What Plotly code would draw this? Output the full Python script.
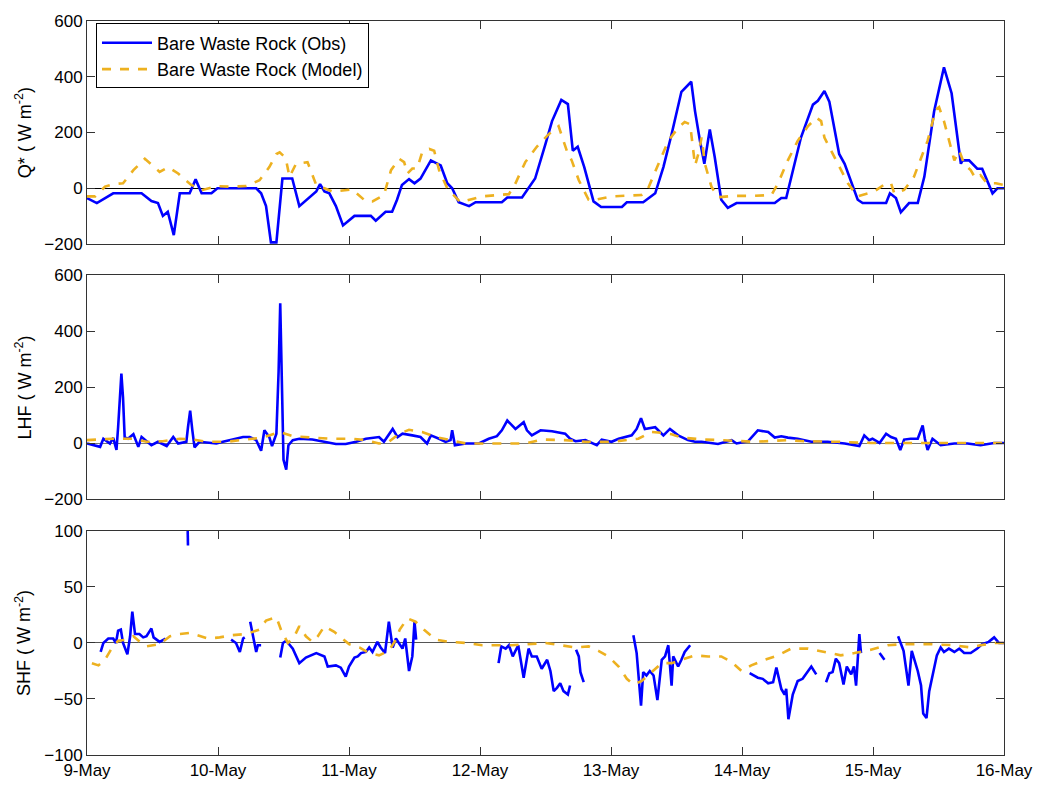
import plotly.graph_objects as go
from plotly.subplots import make_subplots

# ---------------- data (hours since 9-May 00:00) ----------------
qobs_t = [0, 1.8, 4.8, 10.0, 11.8, 13.0, 13.9, 14.8, 15.9, 17.0, 18.8, 19.9, 21.0, 22.8, 23.9, 31.0, 31.9, 32.8,
          33.7, 34.7, 35.8, 37.6, 38.9, 40.7, 42.0, 42.7, 43.5, 44.4, 45.6, 46.9, 49.0, 52.0, 52.9, 54.7, 55.9,
          56.8, 57.7, 59.0, 60.0, 61.1, 63.0, 64.8, 66.0, 66.9, 68.1, 70.0, 71.2, 76.0, 77.0, 79.7, 82.1, 84.0,
          85.2, 86.9, 88.1, 89.0, 89.9, 91.1, 92.8, 94.2, 98.0, 98.9, 101.9, 104.1, 105.6, 107.1, 108.9, 110.7,
          111.4, 112.3, 113.1, 114.1, 115.0, 116.2, 117.4, 119.0, 126.0, 127.2, 128.1, 130.8, 133.0, 133.9, 135.1,
          136.0, 137.8, 138.8, 141.2, 142.1, 146.4, 147.1, 148.2, 149.1, 150.6, 152.2, 153.4, 155.2, 157.0, 158.4,
          160.1, 160.4, 161.6, 163.1, 164.0, 165.9, 166.8, 168]
qobs_v = [-35, -53, -18, -18, -46, -53, -99, -84, -168, -18, -18, 32, -18, -18, 0, 0, -18, -64,
          -194, -194, 35, 35, -64, -35, -11, 15, -11, -18, -64, -133, -99, -99, -116, -84, -84,
          -41, 12, 33, 18, 35, 100, 82, 18, 0, -50, -64, -50, -50, -33, -33, 35, 159,
          241, 317, 302, 135, 149, 76, -47, -67, -67, -50, -50, -18, 76, 194, 346, 382,
          276, 170, 88, 211, 112, -41, -70, -53, -53, -35, -35, 182, 300, 314, 349,
          311, 123, 88, -41, -53, -53, -18, -35, -86, -53, -53, 41, 276, 434, 341,
          88, 100, 100, 70, 70, -18, 0, 0]

qmod_t = [0, 1.5, 3.3, 4.8, 6.6, 8.5, 10.6, 13.3, 14.9, 16.7, 19.1, 21.2, 23.7, 26.1, 29.2, 31.6, 33.4, 34.7,
          35.3, 36.4, 37.1, 38.3, 40.4, 42.0, 45.0, 48.6, 51.1, 52.3, 54.4, 55.7, 57.2, 58.1, 58.7, 59.6, 60.5,
          61.4, 62.7, 63.6, 64.5, 66.0, 68.4, 70.0, 72.4, 77.3, 78.5, 80.3, 82.4, 84.6, 86.4, 87.3, 87.9, 88.8,
          90.1, 91.9, 93.1, 96.1, 101.6, 102.8, 104.7, 106.5, 108.3, 109.5, 110.5, 110.8, 111.4, 112.0, 112.6,
          113.2, 114.4, 115.6, 118.7, 122.3, 125.4, 126.6, 128.4, 130.2, 132.1, 133.6, 134.5, 135.1, 135.7,
          136.9, 138.1, 139.4, 141.2, 144.2, 146.4, 147.3, 147.9, 149.7, 151.5, 152.8, 154.0, 155.5, 156.1,
          157.0, 157.9, 158.9, 159.8, 160.7, 161.9, 162.8, 163.7, 164.9, 166.5, 168]
qmod_v = [-29, -29, 6, 15, 18, 65, 106, 59, 76, 53, 12, -6, 8, 6, 8, 29, 76, 123,
          129, 109, 41, 88, 94, 12, -12, -4, -47, -47, -24, 65, 106, 94, 53, 71, 71,
          129, 141, 135, 65, 0, -50, -41, -29, -21, 18, 94, 149, 194, 223, 170, 135, 100,
          29, -41, -41, -29, -24, 0, 88, 170, 217, 238, 229, 182, 82, 123, 182,
          88, 6, -32, -27, -27, -24, 18, 100, 170, 223, 253, 241, 182, 159,
          112, 65, 18, -29, -12, 18, 18, -18, -6, 41, 112, 170, 282, 291,
          241, 170, 100, 135, 88, 65, 35, 47, 18, 18, 12]

lobs_t = [0, 2.4, 3.0, 4.2, 4.8, 5.4, 5.7, 6.0, 6.3, 6.6, 6.9, 7.5, 8.5, 9.4, 10.0, 11.8, 13.0, 14.6, 15.8,
          16.7, 18.2, 18.5, 18.9, 19.3, 19.7, 20.6, 23.7, 24.9, 27.0, 28.6, 29.8, 31.0, 31.9, 32.5, 33.4, 33.9,
          34.7, 35.1, 35.4, 35.7, 36.0, 36.5, 36.9, 37.7, 38.9, 41.3, 43.8, 45.6, 47.4, 49.3, 51.1, 53.5, 54.4,
          56.0, 56.9, 57.8, 59.6, 61.1, 62.3, 63.0, 64.5, 65.7, 66.6, 66.9, 67.4, 69.4, 71.8, 73.6, 75.1, 76.0,
          77.0, 77.9, 78.5, 80.0, 80.6, 81.5, 83.1, 85.2, 87.6, 88.5, 89.5, 91.3, 93.4, 94.3, 96.1, 97.4, 99.8,
          100.7, 101.5, 102.2, 104.1, 105.6, 106.8, 108.3, 110.1, 111.4, 112.6, 115.6, 118.1, 119.0, 121.1,
          122.9, 124.8, 126.0, 127.2, 128.4, 130.2, 132.7, 135.7, 138.8, 141.5, 142.4, 143.3, 143.9, 145.2,
          146.4, 147.3, 148.2, 149.0, 149.7, 150.9, 152.2, 153.1, 153.5, 154.0, 154.9, 156.4, 158.9, 161.3,
          163.7, 166.2, 168]
lobs_v = [0, -12, 17, 0, 20, -23, 58, 140, 250, 163, 23, 17, 33, -12, 23, -6, 6, -9, 23,
          0, 6, 58, 117, 47, -14, 6, 0, 6, 17, 23, 23, 12, -26, 47, 23, -9,
          35, 256, 501, 268, -58, -93, -6, 12, 17, 14, 6, -2, -2, 6, 17, 23, 6,
          52, 23, 35, 29, 23, 0, 29, 17, 6, 12, 47, -6, 0, 0, 17, 26, 47,
          82, 64, 52, 76, 47, 29, 47, 44, 35, 17, 8, 12, -6, 14, 6, 17, 29,
          52, 90, 52, 58, 29, 52, 29, 12, 6, 6, -2, 12, 0, 8,
          47, 41, 21, 26, 21, 17, 6, 6, 0, -9, 29, 12, 17, 2,
          35, 23, 17, -23, 14, 17, 17, 64, 17, -23, 17, -6, 0, 0,
          -6, 2, 2]

lmod_t = [0, 4.8, 8.5, 10.9, 13.9, 17.0, 19.4, 21.9, 25.5, 29.2, 32.2, 35.3, 37.7, 41.3, 45.0, 48.6, 51.1,
          53.5, 55.3, 57.2, 59.0, 61.4, 63.9, 66.6, 69.4, 74.8, 80.3, 83.3, 87.6, 91.3, 96.1, 101.0, 103.4,
          105.3, 107.1, 108.9, 111.4, 113.2, 116.2, 119.3, 122.3, 128.4, 131.5, 137.5, 143.6, 168]
lmod_v = [12, 17, 17, 6, 8, 17, 14, 6, 6, 14, 21, 41, 26, 21, 17, 17, 12,
          0, 6, 35, 49, 41, 23, 12, 0, 0, 0, 14, 12, 6, 6, 17, 41,
          38, 33, 21, 17, 14, 12, 8, 6, 12, 8, 6, 2, 2]

# SHF observations contain data gaps (None)
sobs_t = [2.5, 3.0, 3.9, 4.8, 5.3, 5.7, 6.2, 6.6, 7.4, 7.9, 8.3, 8.8, 9.6, 10.3, 10.9, 11.8, 12.2, 13.3, 14.4,
          None, 18.3, 18.5,
          None, 26.4, 27.3, 28.0, 28.6, 28.9,
          None, 29.9, 30.4, 31.0, 31.3, 31.9,
          None, 35.4, 35.9, 36.5, 37.7, 38.9, 40.1, 42.0, 42.6, 43.5, 44.1, 45.6, 46.5, 47.4, 48.0, 49.0, 49.6,
          50.2, 51.1, 51.7, 52.3, 53.2, 53.8, 54.6, 55.3, 56.0, 56.6, 57.2, 57.8, 58.3, 59.0, 59.6, 60.0, 60.3,
          None, 75.4, 75.9, 76.7, 77.3, 78.0, 79.0, 80.0, 80.9, 81.5, 82.4, 83.3, 84.3, 84.9, 85.5, 86.1, 86.7,
          87.3, 88.1, 88.5,
          None, 89.6, 90.1, 90.4, 91.0,
          None, 100.1, 100.7, 101.5, 101.9, 102.5, 103.1, 103.8, 104.5, 105.3, 105.9, 106.5, 107.1, 107.4,
          108.3, 108.9, 109.5, 110.5,
          None, 121.4, 122.9, 123.8, 124.8, 125.7, 126.3, 127.2, 127.8, 128.1, 128.5, 129.3, 130.2, 131.1,
          131.8, 132.7, 133.6,
          None, 135.4, 136.0, 136.6, 137.2, 137.8, 138.6, 139.2, 140.0, 140.5, 140.9, 141.5, 141.8,
          None, 145.2, 146.1,
          None, 148.6, 149.6, 150.5, 151.1, 152.2, 152.8, 153.2, 153.8, 154.3, 155.1, 155.7, 156.4, 157.0,
          157.9, 158.9, 159.8, 160.7, 161.9, 163.1, 164.0, 165.2, 166.2, 167.1, 168]
sobs_v = [-8, 0, 4, 4, 0, 11, 12, 0, -10, 6, 28, 8, 8, 5, 6, 13, 5, 1, 4,
          None, 140, 87,
          None, 3, 0, -8, 4, 5,
          None, 19, 6, -8, -2, -2,
          None, -13, 0, 2, -5, -18, -13, -9, -10, -12, -21, -20, -22, -30, -21, -13, -12,
          -9, -8, -4, -8, 1, -4, -9, 19, -4, 4, 0, -5, 4, -25, -12, 19, 3,
          None, -18, -3, -5, -2, -12, -2, -31, -5, -12, -12, -23, -15, -25, -43, -40, -36,
          -43, -46, -38,
          None, -6, -12, -26, -35,
          None, 7, -9, -56, -26, -29, -25, -29, -51, -15, -12, -2, -38, -12,
          -21, -15, -8, -2,
          None, -27, -31, -32, -36, -35, -22, -41, -46, -41, -68, -46, -34, -32,
          -27, -21, -28,
          None, -35, -27, -26, -14, -18, -37, -21, -28, -21, -38, 8, -9,
          None, -9, -15,
          None, 6, -7, -38, -7, -25, -38, -63, -67, -43, -24, -11, -4, -8,
          -5, -8, -5, -9, -9, -5, -1, 1, 5, 0, 0]

smod_t = [0.9, 2.1, 3.3, 4.5, 5.7, 7.3, 8.5, 9.7, 10.9, 13.3, 15.2, 17.0, 18.8, 20.6, 22.2, 24.3, 26.7, 29.2,
          31.6, 32.8, 34.7, 35.6, 36.8, 38.0, 38.9, 40.1, 41.3, 42.3, 43.5, 45.3, 46.8, 48.0, 49.9, 51.7, 53.5,
          55.3, 56.6, 57.3, 58.7, 60.2, 61.7, 63.9, 66.3, 69.4, 72.4, 77.9, 84.0, 87.0, 89.5, 91.9, 93.7, 95.5,
          97.4, 98.9, 100.1, 101.6, 103.4, 105.3, 107.1, 108.9, 111.4, 113.8, 116.2, 118.1, 119.9, 121.7,
          124.2, 126.6, 129.0, 132.1, 135.1, 138.1, 140.6, 143.6, 146.7, 149.7, 154.0, 158.9, 161.9, 163.7,
          166.2, 168]
smod_v = [-18, -20, -15, -5, 2, 3, 6, 1, -3, -1, 6, 8, 9, 6, 4, 5, 7, 8,
          12, 20, 23, 11, 0, 6, 15, 6, 1, 6, 15, 10, 4, -1, -4, -9, -11,
          -7, 3, 12, 22, 19, 12, 3, 1, 0, -2, -2, 0, -2, -4, -3, -7, -12,
          -21, -32, -37, -34, -26, -18, -18, -15, -11, -12, -12, -17, -25, -20,
          -15, -11, -5, -5, -8, -11, -9, -6, -2, -1, -1, -2, -4, -2,
          0, 0]

day_ticks = [0, 24, 48, 72, 96, 120, 144, 168]
day_labels = ["9-May", "10-May", "11-May", "12-May", "13-May", "14-May", "15-May", "16-May"]

OBS_C = "#0000FF"
MOD_C = "#EDB120"
FONT = "Liberation Sans, Arial, Helvetica, sans-serif"

fig = make_subplots(rows=3, cols=1, shared_xaxes=False, vertical_spacing=0.04)

def add(t, v, row, color, dash, name, show):
    fig.add_trace(go.Scatter(x=t, y=v, mode="lines", name=name, showlegend=show,
                             line=dict(color=color, width=2.6, dash=dash),
                             connectgaps=False), row=row, col=1)

add(qobs_t, qobs_v, 1, OBS_C, "solid", "Bare Waste Rock (Obs)", True)
add(qmod_t, qmod_v, 1, MOD_C, "dash", "Bare Waste Rock (Model)", True)
add(lobs_t, lobs_v, 2, OBS_C, "solid", "Bare Waste Rock (Obs)", False)
add(lmod_t, lmod_v, 2, MOD_C, "dash", "Bare Waste Rock (Model)", False)
add(sobs_t, sobs_v, 3, OBS_C, "solid", "Bare Waste Rock (Obs)", False)
add(smod_t, smod_v, 3, MOD_C, "dash", "Bare Waste Rock (Model)", False)

# panel domains (paper fractions)
domains = [[0.6961, 1.0], [0.3481, 0.6533], [0.0, 0.3052]]
yranges = [[-200, 600], [-200, 600], [-100, 100]]
ytickv = [[-200, 0, 200, 400, 600], [-200, 0, 200, 400, 600], [-100, -50, 0, 50, 100]]
ytitles = ["Q* ( W m<sup>-2</sup>)", "LHF ( W m<sup>-2</sup>)", "SHF ( W m<sup>-2</sup>)"]
zcolors = ["#000000", "#777777", "#555555"]

for i in range(3):
    r = i + 1
    fig.update_xaxes(row=r, col=1, range=[0, 168], tickvals=day_ticks,
                     ticktext=day_labels if r == 3 else [""] * len(day_ticks),
                     showticklabels=(r == 3),
                     ticks="inside", ticklen=8, tickcolor="#333", mirror="ticks",
                     showline=True, linecolor="#333", linewidth=1, showgrid=False,
                     zeroline=False, tickfont=dict(size=17, color="black", family=FONT))
    fig.update_yaxes(row=r, col=1, range=yranges[i], tickvals=ytickv[i], domain=domains[i],
                     ticks="inside", ticklen=8, tickcolor="#333", mirror="ticks",
                     showline=True, linecolor="#333", linewidth=1, showgrid=False,
                     zeroline=True, zerolinecolor=zcolors[i], zerolinewidth=1,
                     tickfont=dict(size=17, color="black", family=FONT),
                     title=dict(text=ytitles[i], font=dict(size=18, color="black", family=FONT), standoff=8))

fig.update_layout(
    width=1045, height=792,
    margin=dict(l=87, r=38, t=15, b=30),
    plot_bgcolor="white", paper_bgcolor="white",
    font=dict(family=FONT, size=17, color="black"),
    legend=dict(x=0.0098, y=0.9966, xanchor="left", yanchor="top",
                bgcolor="white", bordercolor="black", borderwidth=1,
                font=dict(size=18, family=FONT, color="black"),
                tracegroupgap=0, itemwidth=50),
)

fig.write_html("out.html")
